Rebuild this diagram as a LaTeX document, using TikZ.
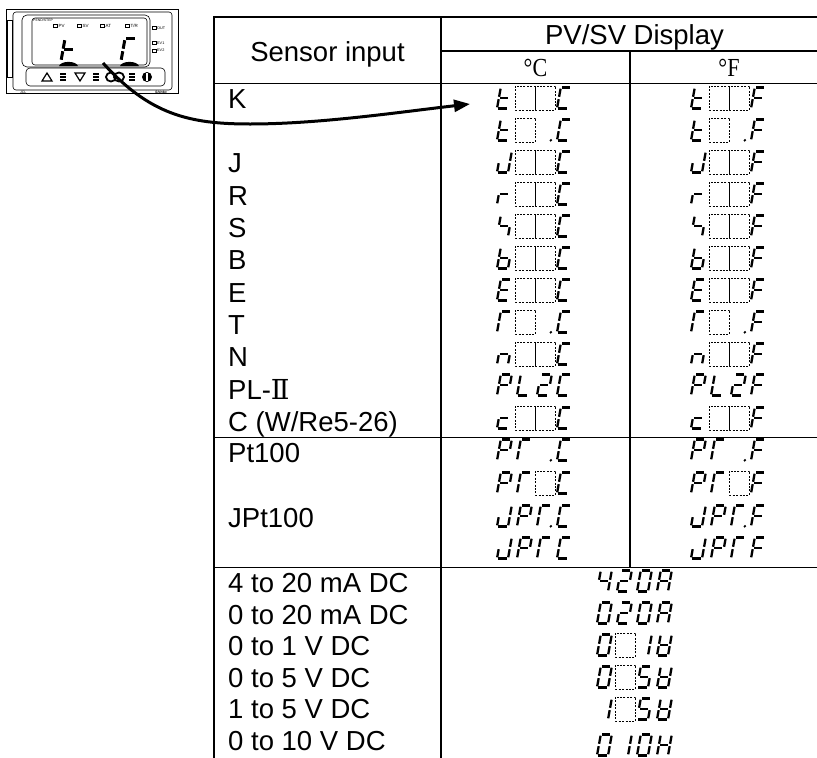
\documentclass[tikz,border=0pt]{standalone}
\usepackage{fontspec}
\setmainfont{Liberation Sans}
\newfontfamily\serifc{Liberation Serif}
\newfontfamily\dvs{DejaVu Serif}
\usetikzlibrary{arrows.meta}
% seven-segment pieces (local units: width 11, height 21)
\newcommand\ssga{\draw[sg] (1.4,21)--(9.6,21);}
\newcommand\ssgb{\draw[sg] (11,11.7)--(11,19.8);}
\newcommand\ssgc{\draw[sg] (11,1.2)--(11,9.3);}
\newcommand\ssgd{\draw[sg] (1.4,0)--(9.6,0);}
\newcommand\ssge{\draw[sg] (0,1.2)--(0,9.3);}
\newcommand\ssgf{\draw[sg] (0,11.7)--(0,19.8);}
\newcommand\ssgg{\draw[sg] (1.4,10.5)--(9.6,10.5);}
\newcommand\ssgp{\fill (13.8,0.2) circle (1.4);}
\newcommand\sdig[4][]{%
  \begin{scope}[shift={({#2},{#3})},x=1pt,y=1pt,xslant=0.18,#1]
  \edef\sdiglist{#4}%
  \foreach \s in \sdiglist {\csname ssg\s\endcsname}
  \end{scope}}
\def\segC{a,f,e,d}
\def\segF{a,f,e,g}
\newcommand\scell[3]{\sdig{\SX+20*(#1-1)+2}{#2+10.5}{#3}}
\newcommand\sbx[2]{\draw[dbx] ({\SX+20*(#1-1)+0.5},{#2-12}) rectangle ({\SX+20*#1+0.5},{#2+12});}
\newcommand\sunit[1]{\scell{4}{#1}{\csname seg\SU\endcsname}}
\newcommand\both[1]{\def\SX{495}\def\SU{C}#1\def\SX{689}\def\SU{F}#1}
\begin{document}
\begin{tikzpicture}[x=1pt,y=-1pt,
  tbl/.style={line width=1.8pt, line cap=rect},
  sg/.style={line width=2.3pt},
  dbx/.style={line width=0.6pt, dash pattern=on 2pt off 1.4pt},
  lbl/.style={anchor=base west, inner sep=0pt, font=\fontsize{27.5}{33}\selectfont},
  hd/.style={anchor=base, inner sep=0pt, font=\fontsize{27.5}{33}\selectfont},
  deg/.style={anchor=base, inner sep=0pt, font=\serifc\fontsize{26}{30}\selectfont},
  dev/.style={line width=0.9pt},
  devt/.style={line width=0.6pt},
  devtxt/.style={inner sep=0pt, anchor=west, font=\fontsize{4.5}{5}\selectfont},
  arr/.style={line width=3pt, -{Triangle[length=16pt,width=12pt]}}]
\useasboundingbox (0,0) rectangle (817,758);
% ---------------- table grid
\draw[tbl] (214,17) -- (817,17);
\draw[tbl] (441,51) -- (817,51);
\draw[tbl] (214,83.5) -- (817,83.5);
\draw[tbl] (214,437.5) -- (817,437.5);
\draw[tbl] (214,567.5) -- (817,567.5);
\draw[tbl] (214,17) -- (214,760);
\draw[tbl] (441,17) -- (441,760);
\draw[tbl] (630,51) -- (630,567.5);
% ---------------- headers
\node[hd] (hsens) at (327.5,61.5) {Sensor input};
\node[hd] (hpvsv) at (634.5,44) {PV/SV Display};
\node[deg] (hc) at (535.5,76) {\scalebox{0.85}[1]{°C}};
\node[deg] (hf) at (729,76) {\scalebox{0.85}[1]{°F}};
% ---------------- labels
\node[lbl] (lK) at (228,108.3) {K};
\node[lbl] (lJ) at (228,172.9) {J};
\node[lbl] (lR) at (228,205.2) {R};
\node[lbl] (lS) at (228,237.5) {S};
\node[lbl] (lB) at (228,269.8) {B};
\node[lbl] (lE) at (228,302.1) {E};
\node[lbl] (lT) at (228,334.4) {T};
\node[lbl] (lN) at (228,366.7) {N};
\node[lbl] (lPL) at (228,399) {PL-{\dvs Ⅱ}};
\node[lbl] (lC) at (228,431.3) {C (W/Re5-26)};
\node[lbl] (lPt) at (228,462.8) {Pt100};
\node[lbl] (lJPt) at (228,527.4) {JPt100};
\node[lbl] (la1) at (228,592.5) {4 to 20 mA DC};
\node[lbl] (la2) at (228,624) {0 to 20 mA DC};
\node[lbl] (lv1) at (228,655.5) {0 to 1 V DC};
\node[lbl] (lv2) at (228,687) {0 to 5 V DC};
\node[lbl] (lv3) at (228,718.5) {1 to 5 V DC};
\node[lbl] (lv4) at (228,750) {0 to 10 V DC};
% ---------------- displays, thermocouples
\both{\scell{1}{98}{d,e,f,g}\sbx{2}{98}\sbx{3}{98}\sunit{98}}
\both{\scell{1}{130}{d,e,f,g}\sbx{2}{130}\scell{3}{130}{p}\sunit{130}}
\both{\scell{1}{162}{b,c,d,e}\sbx{2}{162}\sbx{3}{162}\sunit{162}}
\both{\scell{1}{194}{e,g}\sbx{2}{194}\sbx{3}{194}\sunit{194}}
\both{\scell{1}{226}{f,g,c}\sbx{2}{226}\sbx{3}{226}\sunit{226}}
\both{\scell{1}{258}{f,e,d,c,g}\sbx{2}{258}\sbx{3}{258}\sunit{258}}
\both{\scell{1}{290}{a,f,g,e,d}\sbx{2}{290}\sbx{3}{290}\sunit{290}}
\both{\scell{1}{322}{a,f,e}\sbx{2}{322}\scell{3}{322}{p}\sunit{322}}
\both{\scell{1}{354}{e,g,c}\sbx{2}{354}\sbx{3}{354}\sunit{354}}
\both{\scell{1}{385}{a,b,f,g,e}\scell{2}{385}{f,e,d}\scell{3}{385}{a,b,g,e,d}\sunit{385}}
\both{\scell{1}{418}{g,e,d}\sbx{2}{418}\sbx{3}{418}\sunit{418}}
% RTD
\both{\scell{1}{450}{a,b,f,g,e}\scell{2}{450}{a,f,e}\scell{3}{450}{p}\sunit{450}}
\both{\scell{1}{483}{a,b,f,g,e}\scell{2}{483}{a,f,e}\sbx{3}{483}\sunit{483}}
\both{\scell{1}{516}{b,c,d,e}\scell{2}{516}{a,b,f,g,e}\scell{3}{516}{a,f,e,p}\sunit{516}}
\both{\scell{1}{548}{b,c,d,e}\scell{2}{548}{a,b,f,g,e}\scell{3}{548}{a,f,e}\sunit{548}}
% analog
\def\SX{595}
\scell{1}{581}{f,g,b,c}\scell{2}{581}{a,b,g,e,d}\scell{3}{581}{a,b,c,d,e,f}\scell{4}{581}{a,b,c,e,f,g}
\scell{1}{613}{a,b,c,d,e,f}\scell{2}{613}{a,b,g,e,d}\scell{3}{613}{a,b,c,d,e,f}\scell{4}{613}{a,b,c,e,f,g}
\scell{1}{645}{a,b,c,d,e,f}\sbx{2}{645}\scell{3}{645}{b,c}\scell{4}{645}{b,c,d,e,f,g}
\scell{1}{677}{a,b,c,d,e,f}\sbx{2}{677}\scell{3}{677}{a,f,g,c,d}\scell{4}{677}{b,c,d,e,f,g}
\scell{1}{709}{b,c}\sbx{2}{709}\scell{3}{709}{a,f,g,c,d}\scell{4}{709}{b,c,d,e,f,g}
\scell{1}{745}{a,b,c,d,e,f}\scell{2}{745}{b,c}\scell{3}{745}{a,b,c,d,e,f}\scell{4}{745}{b,c,e,f,g}
% ---------------- controller front panel
\draw[dev] (6,9) rectangle (178,93);
\draw[devt,rounded corners=3pt] (13,12) rectangle (172,90);
\draw[devt] (7,20) rectangle (12,77);
\draw[devt,rounded corners=5pt] (22,15) rectangle (150,67);
\draw[devt,rounded corners=3pt] (32,18) rectangle (147,65);
\node[devtxt,font=\fontsize{3.5}{4}\selectfont] (tpend) at (33,20) {PEND/STEP};
\foreach \xx/\tt/\nm in {53/PV/ipv,77/SV/isv,100/AT/iat,125/T\slash R/itr}{
  \draw[devt] (\xx,24.5) rectangle (\xx+4.5,27.5);
  \node[devtxt] (\nm) at (\xx+5.5,26) {\tt};}
\foreach \yy/\tt/\nm in {28/OUT/iout,43/EV1/iev1,50.5/EV2/iev2}{
  \draw[devt] (152,\yy-1.5) rectangle (156,\yy+1.5);
  \node[devtxt,font=\fontsize{3.8}{4}\selectfont] (\nm) at (157,\yy) {\tt};}
\sdig[sg/.style={line width=3pt},yscale=1.05]{61}{61}{e,f,g}
\sdig[sg/.style={line width=3pt},yscale=1.05]{121}{61}{a,f,e}
\fill (59,66) .. controls (61,60.5) and (76,60.5) .. (78,66) -- cycle;
\fill (120,66) .. controls (122,60.5) and (137,60.5) .. (139,66) -- cycle;
\draw[devt,rounded corners=4pt] (26,68) rectangle (165,86);
\draw[line width=1.2pt] (42,81)--(47,73)--(52,81)--cycle;
\draw[line width=1.2pt] (75,73)--(85,73)--(80,81)--cycle;
\foreach \xx in {63,96,132}{
  \foreach \dy in {-3,0,3}{\draw[line width=1.6pt] (\xx-3,77+\dy)--(\xx+3,77+\dy);}}
\draw[line width=1.8pt] (111,77) ellipse (5 and 4.5);
\draw[line width=1.8pt] (119,77) ellipse (5 and 4.5);
\fill (147,77) circle (5);
\draw[white,line width=1.4pt] (147,73)--(147,81);
\node[devtxt,font=\fontsize{3.5}{4}\selectfont] (tjcl) at (20,92) {JCL};
\node[devtxt,font=\bfseries\itshape\fontsize{3.5}{4}\selectfont] (tbrand) at (155,92) {Shinko};
% ---------------- arrow
\coordinate (src) at (103,63);
\coordinate (tip) at (470,104);
\draw[arr] (src) .. controls (150,115) and (190,124) .. (250,124) .. controls (320,124) and (400,112) .. (tip);
\end{tikzpicture}
\end{document}
